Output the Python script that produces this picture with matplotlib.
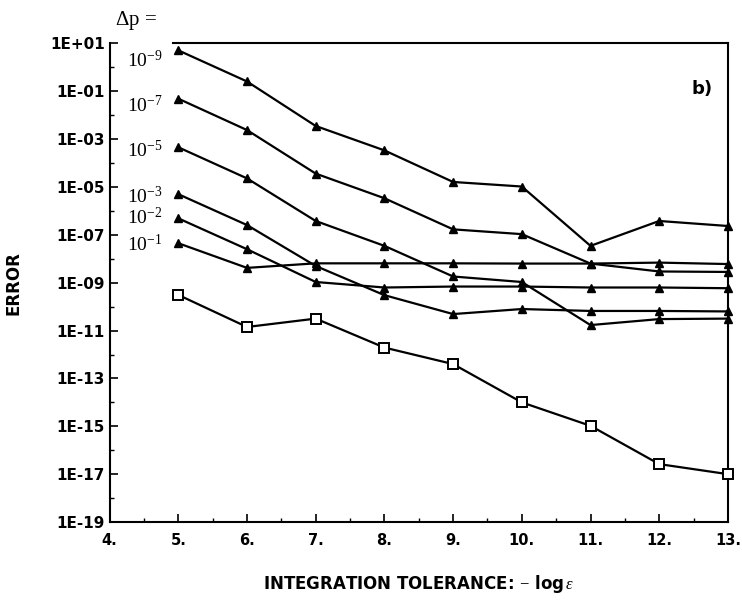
"""
Error versus integration tolerance, panel b).
"""

import numpy as np
import matplotlib
matplotlib.use("Agg")
import matplotlib.pyplot as plt

plt.rcParams["font.family"] = "DejaVu Sans"
plt.rcParams["mathtext.fontset"] = "custom"
plt.rcParams["mathtext.rm"] = "Liberation Serif"
plt.rcParams["mathtext.it"] = "Liberation Serif:italic"

# ============================================================
# DATA (log10 of error)
# ============================================================

tolerance = [5, 6, 7, 8, 9, 10, 11, 12, 13]

dp_labels = ["10$^{-9}$", "10$^{-7}$", "10$^{-5}$", "10$^{-3}$", "10$^{-2}$", "10$^{-1}$"]
dp_label_pos = [0.02, -1.87, -3.75, -5.68, -6.55, -7.68]

log_err_dp9 = [0.71, -0.59, -2.45, -3.47, -4.79, -4.98, -7.46, -6.42, -6.63]
log_err_dp7 = [-1.31, -2.62, -4.44, -5.47, -6.77, -6.97, -8.20, -8.53, -8.55]
log_err_dp5 = [-3.34, -4.64, -6.42, -7.46, -8.74, -8.97, -10.77, -10.52, -10.50]
log_err_dp3 = [-5.30, -6.59, -8.30, -9.52, -10.31, -10.10, -10.18, -10.18, -10.20]
log_err_dp2 = [-6.31, -7.60, -8.97, -9.20, -9.16, -9.16, -9.20, -9.20, -9.23]
log_err_dp1 = [-7.35, -8.38, -8.19, -8.19, -8.19, -8.20, -8.20, -8.16, -8.22]

log_err_ref = [-9.51, -10.85, -10.50, -11.71, -12.40, -14.00, -14.98, -16.58, -17.00]

triangle_series = [log_err_dp9, log_err_dp7, log_err_dp5,
                   log_err_dp3, log_err_dp2, log_err_dp1]

# ============================================================
# FIGURE
# ============================================================

fig = plt.figure(figsize=(7.42, 6.03), dpi=100)
ax = fig.add_axes([0.1477, 0.1343, 0.8333, 0.7937])

for series in triangle_series:
    ax.plot(tolerance, 10.0 ** np.array(series), color="black", lw=1.6,
            marker="^", markersize=5.5, markerfacecolor="black",
            markeredgecolor="black", clip_on=False, zorder=3)

ax.plot(tolerance, 10.0 ** np.array(log_err_ref), color="black", lw=1.6,
        marker="s", markersize=6.5, markerfacecolor="white",
        markeredgecolor="black", markeredgewidth=1.4, clip_on=False, zorder=3)

ax.set_yscale("log")
ax.set_xlim(4, 13)
ax.set_ylim(1e-19, 1e1)

# ticks
ax.set_xticks(range(4, 14))
ax.set_xticklabels([f"{v}." for v in range(4, 14)])
ax.set_xticks(np.arange(4.5, 13, 1.0), minor=True)

major_y = [10.0 ** k for k in range(1, -20, -2)]
ax.set_yticks(major_y)
ax.set_yticklabels([f"1E{k:+03d}" for k in range(1, -20, -2)])
ax.set_yticks([10.0 ** k for k in range(0, -19, -2)], minor=True)
ax.yaxis.set_minor_formatter(matplotlib.ticker.NullFormatter())

ax.tick_params(axis="both", which="major", direction="in", length=6, width=1.2)
ax.tick_params(axis="both", which="minor", direction="in", length=3, width=1)
ax.tick_params(axis="x", pad=8, labelsize=10.5)
ax.tick_params(axis="y", labelsize=11)
for lab in ax.get_xticklabels() + ax.get_yticklabels():
    lab.set_fontweight("bold")

for side in ["left", "bottom", "right", "top"]:
    ax.spines[side].set_linewidth(1.5)
ax.spines["top"].set_bounds(4.92, 13)

# curve labels
for lab, pos in zip(dp_labels, dp_label_pos):
    ax.text(4.25, 10.0 ** pos, lab, ha="left", va="baseline",
            fontsize=14, family="Liberation Serif")

ax.text(0.009, 1.038, r"$\Delta$p =", transform=ax.transAxes, ha="left",
        va="baseline", fontsize=15, family="Liberation Serif")

ax.text(0.975, 0.905, "b)", transform=ax.transAxes, ha="right",
        va="center", fontsize=13, fontweight="bold")

ax.set_ylabel("ERROR", fontsize=12, fontweight="bold", labelpad=20)
ax.set_xlabel(r"INTEGRATION TOLERANCE: $-$ log$\,\varepsilon$", fontsize=12,
              fontweight="bold", labelpad=18)

fig.savefig("out.png", dpi=100)
